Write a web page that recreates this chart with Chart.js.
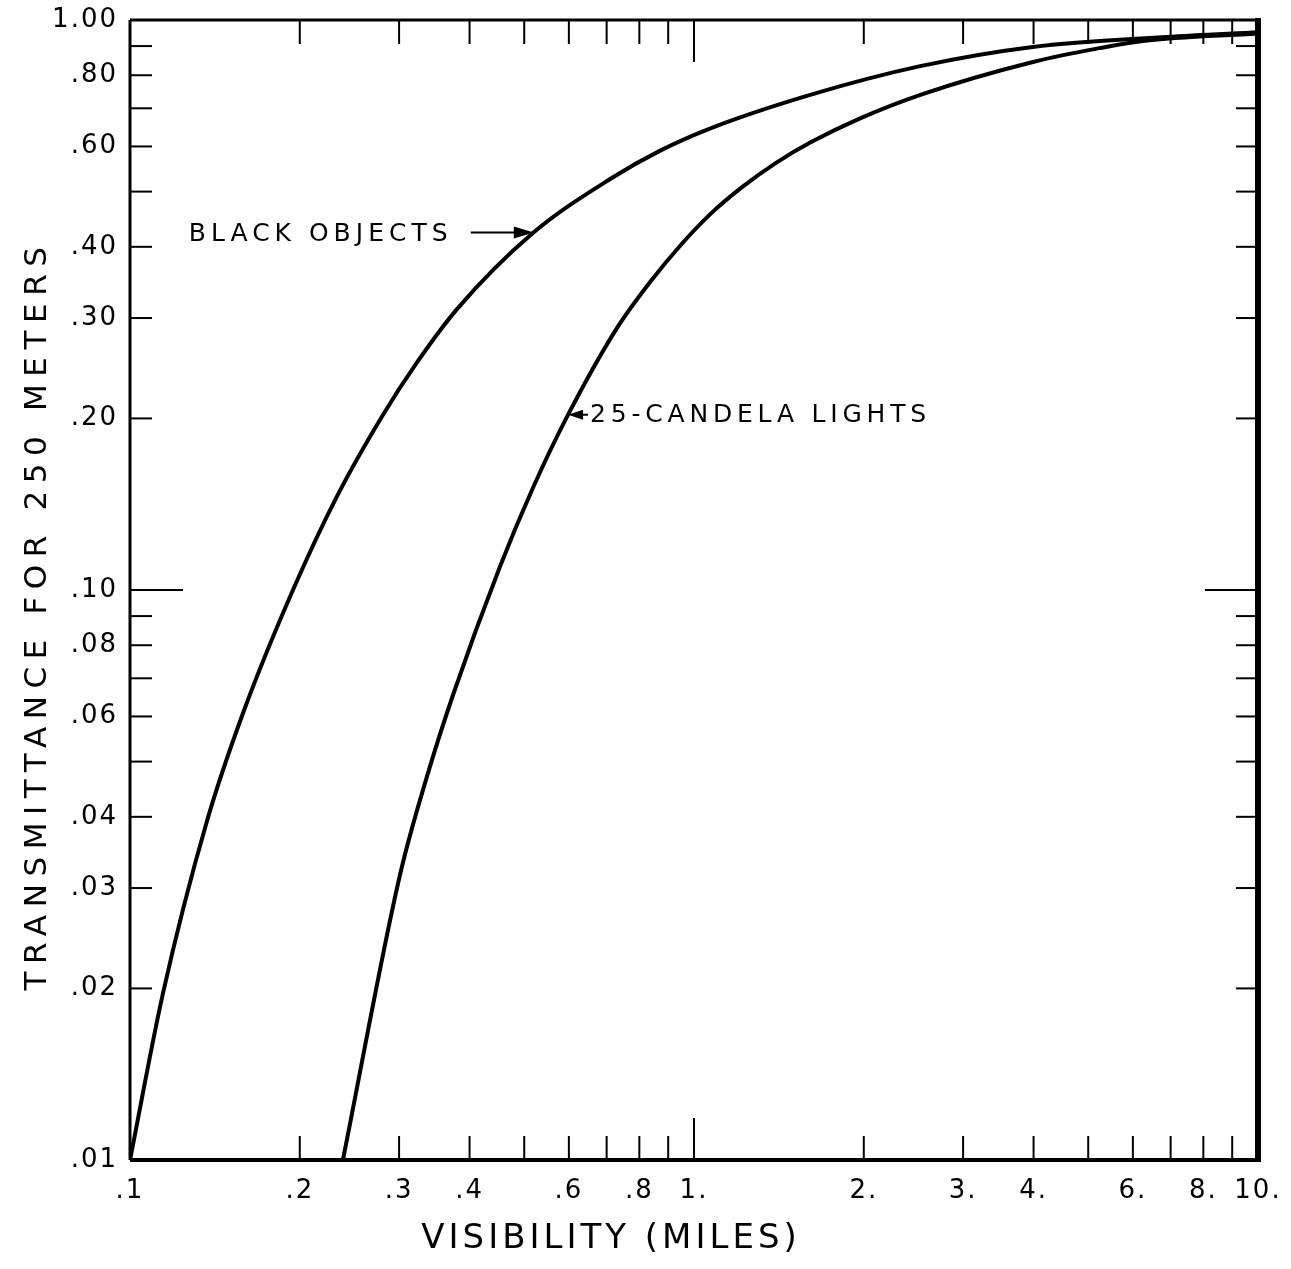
<!DOCTYPE html>
<html>
<head>
<meta charset="utf-8">
<script src="https://cdn.jsdelivr.net/npm/chart.js@4.4.1/dist/chart.umd.min.js"></script>
<style>
  html, body { margin: 0; padding: 0; background: #fff; }
  #grafico { display: block; }
</style>
</head>
<body>
<canvas id="grafico" width="1291" height="1269"></canvas>
<script>
// valores (visibilidad en millas, transmitancia para 250 m)
var negrosX = [0.100, 0.1144, 0.1369, 0.1592, 0.1945, 0.2328, 0.281, 0.323, 0.380, 0.518, 0.710, 0.871, 1.067, 1.607, 2.518, 3.99, 6.90, 10.0];
var negrosY = [0.0100, 0.0196, 0.0393, 0.0614, 0.100, 0.146, 0.203, 0.251, 0.311, 0.423, 0.526, 0.590, 0.645, 0.739, 0.830, 0.897, 0.934, 0.952];

var lucesX = [0.2385, 0.301, 0.336, 0.374, 0.453, 0.518, 0.595, 0.730, 0.836, 0.956, 1.07, 1.22, 1.40, 1.61, 1.97, 2.52, 3.99, 5.25, 6.25, 10.0];
var lucesY = [0.0100, 0.0316, 0.0470, 0.0655, 0.110, 0.151, 0.201, 0.288, 0.347, 0.407, 0.457, 0.510, 0.562, 0.610, 0.672, 0.739, 0.844, 0.893, 0.919, 0.947];

var ticksX = [0.1, 0.2, 0.3, 0.4, 0.5, 0.6, 0.7, 0.8, 0.9, 1, 2, 3, 4, 5, 6, 7, 8, 9, 10];
var etiquetasX = ['.1', '.2', '.3', '.4', '', '.6', '', '.8', '', '1.', '2.', '3.', '4.', '', '6.', '', '8.', '', '10.'];
var ticksY = [0.01, 0.02, 0.03, 0.04, 0.05, 0.06, 0.07, 0.08, 0.09, 0.1, 0.2, 0.3, 0.4, 0.5, 0.6, 0.7, 0.8, 0.9, 1];
var etiquetasY = ['.01', '.02', '.03', '.04', '', '.06', '', '.08', '', '.10', '.20', '.30', '.40', '', '.60', '', '.80', '', '1.00'];

var tituloX = 'VISIBILITY (MILES)';
var tituloY = 'TRANSMITTANCE FOR 250 METERS';
var notaNegros = 'BLACK OBJECTS';
var notaLuces = '25-CANDELA LIGHTS';
var flechaNegros = [0.52, 0.424];
var flechaLuces = [0.598, 0.203];

var fuente = '"DejaVu Sans", "Liberation Sans", sans-serif';

function puntos(xs, ys) {
  return xs.map(function (x, i) { return { x: x, y: ys[i] }; });
}

function linea(ctx, x1, y1, x2, y2) {
  ctx.beginPath();
  ctx.moveTo(x1, y1);
  ctx.lineTo(x2, y2);
  ctx.stroke();
}

// marcas hacia adentro, marco y textos
var dibujoExtra = {
  id: 'dibujoExtra',
  afterInit: function (chart) { chart.ctx.letterSpacing = '2px'; },
  beforeUpdate: function (chart) { chart.ctx.letterSpacing = '2px'; },
  beforeDraw: function (chart) { chart.ctx.letterSpacing = '2px'; },
  afterDatasetsDraw: function (chart) {
    var ctx = chart.ctx;
    var a = chart.chartArea;
    var sx = chart.scales.x;
    var sy = chart.scales.y;
    ctx.save();
    ctx.strokeStyle = '#000';
    ctx.lineWidth = 2;

    ticksY.forEach(function (v) {
      if (v <= 0.01 || v >= 1) return;
      var py = sy.getPixelForValue(v);
      var largo = v === 0.1 ? 53 : 22;
      linea(ctx, a.left, py, a.left + largo, py);
      linea(ctx, a.right - largo, py, a.right, py);
    });
    ticksX.forEach(function (v) {
      if (v <= 0.1 || v >= 10) return;
      var px = sx.getPixelForValue(v);
      var largo = v === 1 ? 42 : 24;
      linea(ctx, px, a.bottom, px, a.bottom - largo);
      linea(ctx, px, a.top, px, a.top + largo);
    });

    // marco
    ctx.lineWidth = 3;
    linea(ctx, a.left, a.top, a.right, a.top);
    linea(ctx, a.left, a.top, a.left, a.bottom);
    ctx.lineWidth = 4;
    linea(ctx, a.left, a.bottom, a.right, a.bottom);
    ctx.lineWidth = 6;
    linea(ctx, a.right, a.top - 2, a.right, a.bottom + 2);

    // flechas y notas
    ctx.fillStyle = '#000';
    ctx.lineWidth = 2;
    var nx = sx.getPixelForValue(flechaNegros[0]);
    var ny = sy.getPixelForValue(flechaNegros[1]);
    linea(ctx, nx - 63, ny, nx - 10, ny);
    ctx.beginPath();
    ctx.moveTo(nx, ny);
    ctx.lineTo(nx - 20, ny - 6);
    ctx.lineTo(nx - 20, ny + 6);
    ctx.closePath();
    ctx.fill();

    var lx = sx.getPixelForValue(flechaLuces[0]);
    var ly = sy.getPixelForValue(flechaLuces[1]);
    linea(ctx, lx + 8, ly, lx + 20, ly);
    ctx.beginPath();
    ctx.moveTo(lx, ly);
    ctx.lineTo(lx + 15, ly - 5);
    ctx.lineTo(lx + 15, ly + 5);
    ctx.closePath();
    ctx.fill();

    ctx.textAlign = 'left';
    ctx.textBaseline = 'middle';
    ctx.font = '25px ' + fuente;
    ctx.letterSpacing = '5px';
    ctx.fillText(notaNegros, nx - 345, ny + 2);
    ctx.letterSpacing = '4.8px';
    ctx.fillText(notaLuces, lx + 22, ly + 1);

    // titulos de los ejes
    ctx.textAlign = 'center';
    ctx.font = '34px ' + fuente;
    ctx.letterSpacing = '4px';
    ctx.fillText(tituloX, a.left + 481, a.bottom + 79);

    ctx.font = '31px ' + fuente;
    ctx.letterSpacing = '7.6px';
    ctx.translate(38, a.top + 595);
    ctx.rotate(-Math.PI / 2);
    ctx.fillText(tituloY, 0, 0);
    ctx.restore();
  }
};

var ctx = document.getElementById('grafico').getContext('2d');

var miGrafico = new Chart(ctx, {
  type: 'line',
  data: {
    datasets: [{
      label: notaNegros,
      data: puntos(negrosX, negrosY),
      borderColor: '#000',
      borderWidth: 4,
      pointRadius: 0,
      fill: false,
      cubicInterpolationMode: 'monotone'
    }, {
      label: notaLuces,
      data: puntos(lucesX, lucesY),
      borderColor: '#000',
      borderWidth: 4,
      pointRadius: 0,
      fill: false,
      cubicInterpolationMode: 'monotone'
    }]
  },
  options: {
    responsive: false,
    animation: false,
    layout: { padding: { top: 20, right: 33, left: 0, bottom: 0 } },
    plugins: {
      legend: { display: false },
      tooltip: { enabled: false }
    },
    scales: {
      x: {
        type: 'logarithmic',
        position: 'bottom',
        min: 0.1,
        max: 10,
        grid: { display: false, drawTicks: false },
        border: { display: false },
        ticks: {
          autoSkip: false,
          maxRotation: 0,
          minRotation: 0,
          padding: 16,
          color: '#000',
          font: { family: fuente, size: 26 },
          callback: function (valor, i) { return etiquetasX[i]; }
        },
        afterBuildTicks: function (s) {
          s.ticks = ticksX.map(function (v) { return { value: v }; });
        },
        afterFit: function (s) {
          s.height = 109;
          s.paddingLeft = 0;
          s.paddingRight = 0;
        }
      },
      y: {
        type: 'logarithmic',
        position: 'left',
        min: 0.01,
        max: 1,
        grid: { display: false, drawTicks: false },
        border: { display: false },
        ticks: {
          autoSkip: false,
          padding: 12,
          color: '#000',
          font: { family: fuente, size: 26 },
          callback: function (valor, i) { return etiquetasY[i]; }
        },
        afterBuildTicks: function (s) {
          s.ticks = ticksY.map(function (v) { return { value: v }; });
        },
        afterFit: function (s) {
          s.width = 130;
          s.paddingTop = 0;
          s.paddingBottom = 0;
        }
      }
    }
  },
  plugins: [dibujoExtra]
});
</script>
</body>
</html>
